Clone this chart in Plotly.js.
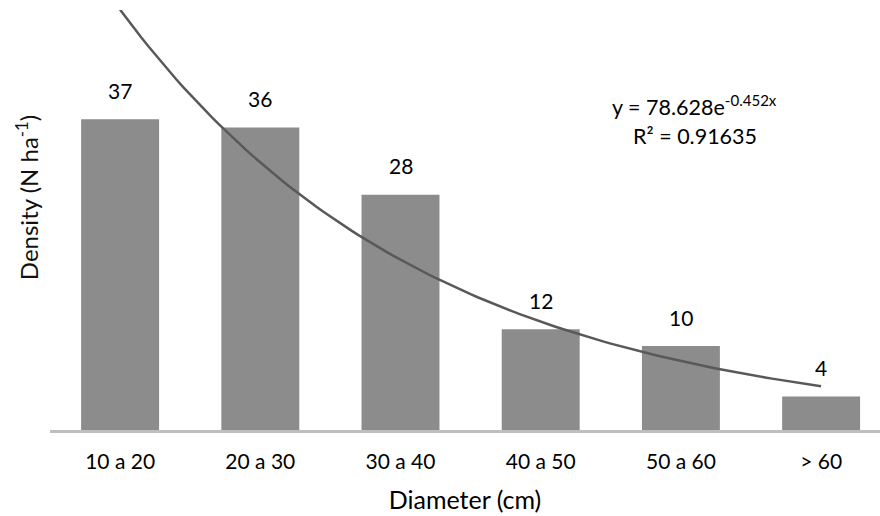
<!DOCTYPE html>
<html><head><meta charset="utf-8">
<script src="https://cdn.plot.ly/plotly-3.0.1.min.js"></script>
<style>html,body{margin:0;padding:0;background:#fff}#c{width:880px;height:516px}</style>
</head><body><div id="c"></div>
<script>
var categories = ["10 a 20","20 a 30","30 a 40","40 a 50","50 a 60","> 60"];
var positions = [1,2,3,4,5,6];
var density = [37,36,28,12,10,4];
// Excel exponential trendline shown on the chart: y = 78.628 e^(-0.452x)
var trendA = 78.628;
var trendB = -0.452;
var trendX = [];
for (var k = 0; k <= 100; k++) trendX.push(1 + 5 * k / 100);
var trendY = trendX.map(function(x){ return trendA * Math.exp(trendB * x); });

var font = "Lato, 'Open Sans', sans-serif";
var annotations = positions.map(function(p, i){
  return {x: p, y: density[i], text: String(density[i]), showarrow: false,
    yanchor: 'middle', yshift: 29, font: {family: font, size: 21, color: '#000'}};
});
annotations.push({xref:'paper', yref:'paper', x: 0.777, y: 0.772, xanchor:'center', yanchor:'middle',
  text: 'y = 78.628e<sup>-0.452x</sup>', showarrow:false, font:{family:font, size:21.5, color:'#000'}});
annotations.push({xref:'paper', yref:'paper', x: 0.777, y: 0.699, xanchor:'center', yanchor:'middle',
  text: 'R² = 0.91635', showarrow:false, font:{family:font, size:21.5, color:'#000'}});
annotations.push({xref:'paper', yref:'paper', x: -0.0277, y: 0.552, xanchor:'center', yanchor:'middle',
  textangle: -90, text: 'Density (N ha<sup>-1</sup>)', showarrow:false, font:{family:font, size:24, color:'#111'}});

var data = [
  {type:'bar', x: positions, y: density, width: 0.556, marker:{color:'#8c8c8c'}, hoverinfo:'none'},
  {type:'scatter', mode:'lines', x: trendX, y: trendY, line:{color:'#595959', width:2.5}, hoverinfo:'none'}
];
var layout = {
  width: 880, height: 516,
  margin: {l: 50, r: 0, t: 10, b: 86},
  showlegend: false,
  paper_bgcolor:'#fff', plot_bgcolor:'#fff',
  xaxis: {range:[0.5, 6.42], tickvals: positions, ticktext: categories, showgrid:false, zeroline:false,
    showline:true, linecolor:'#bfbfbf', linewidth:2.5, ticks:'', ticklen:0, ticklabelstandoff: 11,
    tickfont:{family:font, size:21, color:'#000'},
    title:{text:'Diameter (cm)', font:{family:font, size:25, color:'#000'}, standoff: 20}},
  yaxis: {range:[0, 50], showgrid:false, zeroline:false, showticklabels:false, showline:false, ticks:''},
  annotations: annotations
};
Plotly.newPlot('c', data, layout, {staticPlot:true, displayModeBar:false});
</script></body></html>
